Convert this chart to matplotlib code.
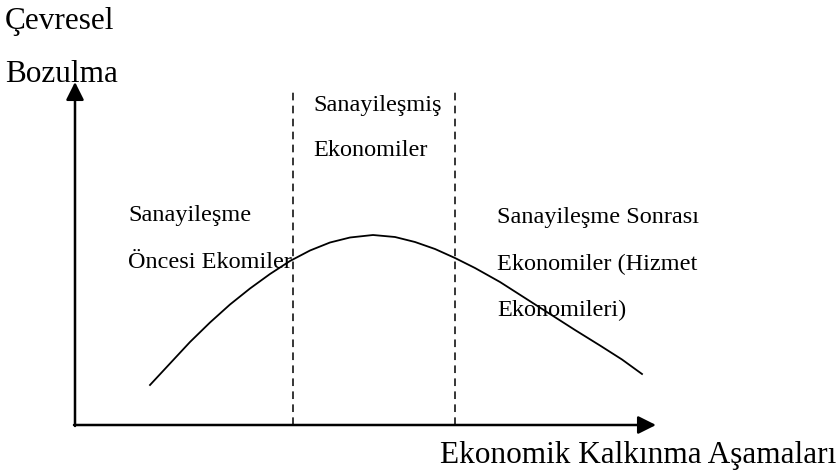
import matplotlib.pyplot as plt

# curve points (x = development stage, y = degradation)
curve_x = [75, 95, 115, 135, 155, 175, 195, 215, 235, 255, 275, 298,
           320, 340, 360, 380, 400, 425, 450, 475, 500, 525, 547, 567]
curve_y = [40, 61.5, 83, 102.5, 120.5, 136.5, 151, 164, 174.5, 182.5, 187.5, 190,
           188, 183, 176, 167, 157, 143, 127, 111, 95, 79.5, 65.5, 51]

stage_bounds = [218, 380]
x_label = "Ekonomik Kalkınma Aşamaları"
y_label = ["Çevresel", "Bozulma"]
stage_labels = [
    ["Sanayileşme", "Öncesi Ekomiler"],
    ["Sanayileşmiş", "Ekonomiler"],
    ["Sanayileşme Sonrası", "Ekonomiler (Hizmet", "Ekonomileri)"],
]

plt.rcParams['font.family'] = ['Liberation Serif', 'DejaVu Serif']

fig = plt.figure(figsize=(8.4, 4.76), dpi=100)
ax = fig.add_axes([0, 0, 1, 1])
# origin of the diagram sits at pixel (75, 425)
ax.set_xlim(-75, 765)
ax.set_ylim(-51, 425)
ax.axis('off')

# axes with arrows
arrow = dict(arrowstyle='-|>', lw=1.8, color='black', mutation_scale=27, shrinkA=0, shrinkB=0)
ax.annotate('', xy=(581, 0), xytext=(-1, 0), arrowprops=arrow)
ax.annotate('', xy=(0, 343), xytext=(0, -1), arrowprops=arrow)

# stage boundaries
for b in stage_bounds:
    ax.plot([b, b], [0, 337], color='black', lw=1.1, ls=(0, (5, 3.5)))

ax.plot(curve_x, curve_y, color='black', lw=1.3)

# labels
big = 22.5
small = 17.5
ax.text(-70, 403, y_label[0], fontsize=big, va='center', ha='left')
ax.text(-70, 350, y_label[1], fontsize=big, va='center', ha='left')
ax.text(365, -30, x_label, fontsize=big, va='center', ha='left')

ax.text(53, 210, stage_labels[0][0], fontsize=small, va='center', ha='left')
ax.text(53, 162, stage_labels[0][1], fontsize=small, va='center', ha='left')
ax.text(238, 320, stage_labels[1][0], fontsize=small, va='center', ha='left')
ax.text(238, 275, stage_labels[1][1], fontsize=small, va='center', ha='left')
for i, s in enumerate(stage_labels[2]):
    ax.text(422, 207 - i * 46, s, fontsize=small, va='center', ha='left')

fig.savefig('out.png', dpi=100, facecolor='white')
